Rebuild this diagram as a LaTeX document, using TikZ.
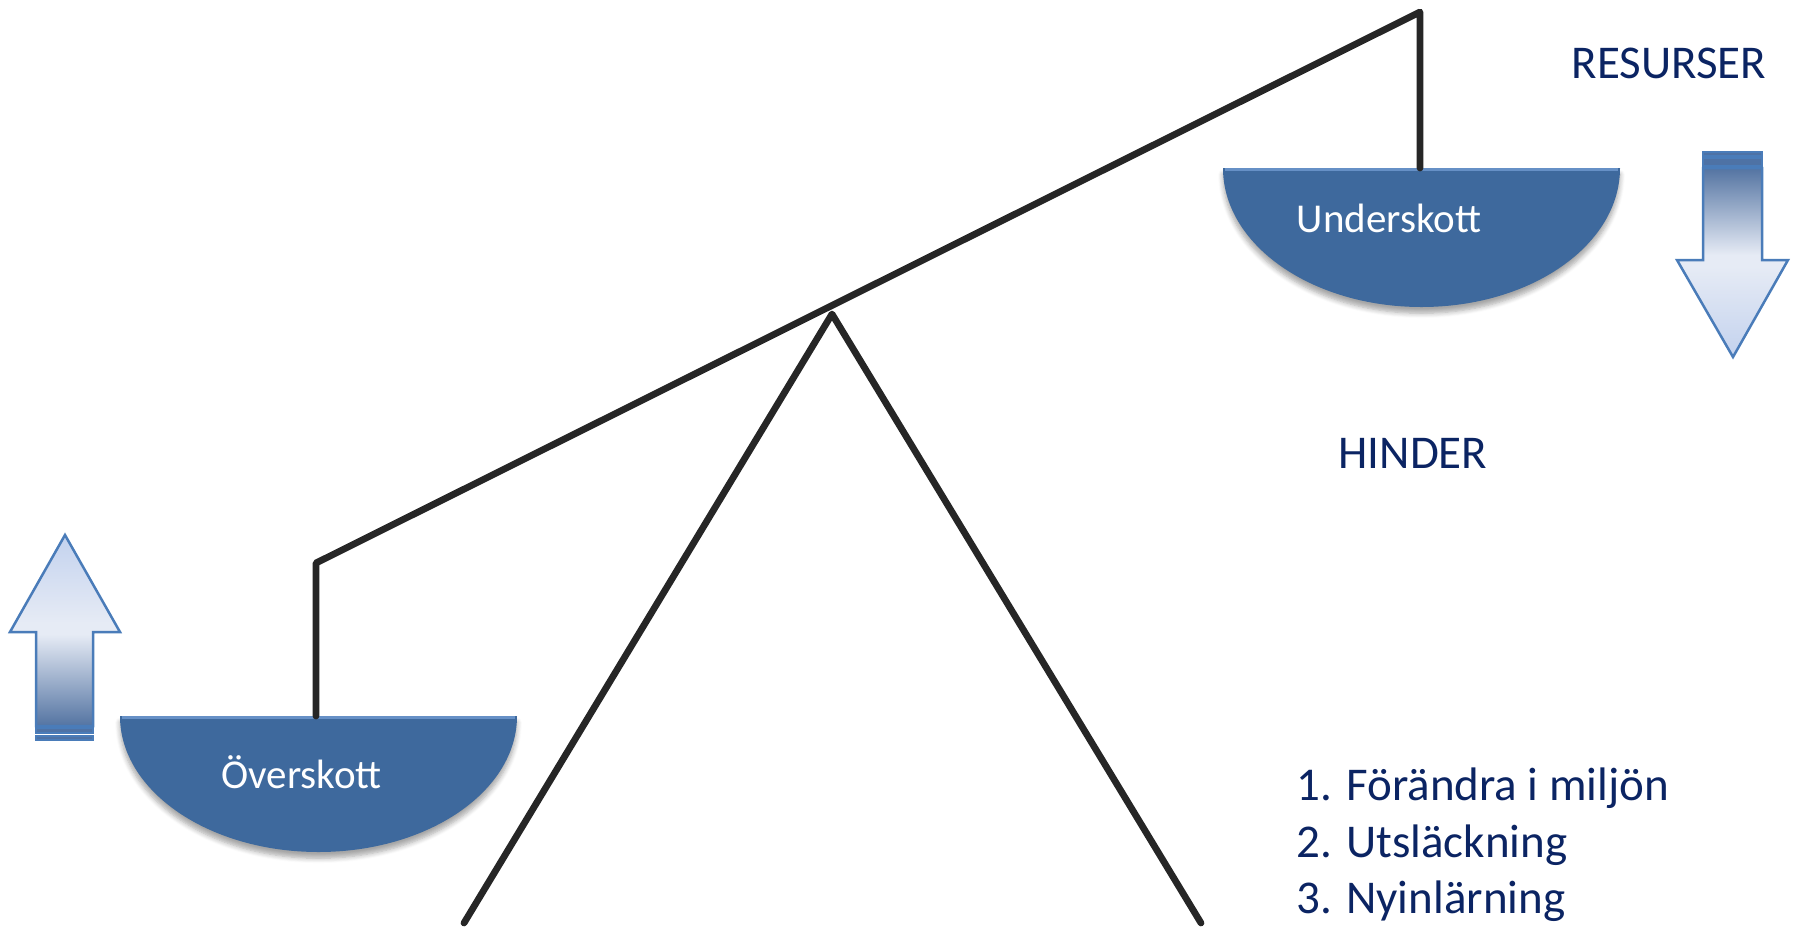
\documentclass[tikz,border=0pt]{standalone}
\usepackage{fontspec}
\setmainfont{Carlito}
\usetikzlibrary{shadows.blur}
\definecolor{navy}{HTML}{0B2463}
\definecolor{panblue}{HTML}{3E699D}
\definecolor{panrim}{HTML}{6690C6}
\definecolor{rodgray}{HTML}{262626}
\definecolor{arrowline}{HTML}{4A7CB9}
\definecolor{uptip}{HTML}{C3D2EE}
\definecolor{uplight}{HTML}{E6EBF5}
\definecolor{upbot}{HTML}{5474A2}
\definecolor{stripe}{HTML}{4E72A5}
\pgfdeclareverticalshading{uparrowshade}{100bp}{color(0bp)=(upbot); color(25bp)=(upbot); color(49bp)=(uplight); color(52bp)=(uplight); color(75bp)=(uptip); color(100bp)=(uptip)}
\pgfdeclareverticalshading{downarrowshade}{100bp}{color(0bp)=(uptip); color(25bp)=(uptip); color(49bp)=(uplight); color(52bp)=(uplight); color(75bp)=(upbot); color(100bp)=(upbot)}
\tikzset{
  rod/.style={draw=rodgray, line width=2.7pt, line cap=round, line join=round},
  pan/.style={fill=panblue, blur shadow={shadow xshift=0pt, shadow yshift=-2.5pt, shadow blur steps=6, shadow opacity=35}},
  pantext/.style={text=white, font=\fontsize{16.4}{19}\selectfont, anchor=base, inner sep=0pt},
  navytext/.style={text=navy, font=\fontsize{18.8}{22}\selectfont, inner sep=0pt},
  arrowbox/.style={draw=arrowline, line width=1pt, line join=miter},
  stripebox/.style={fill=stripe, draw=arrowline, line width=0.5pt}
}
\begin{document}
\begin{tikzpicture}[x=0.4pt, y=-0.4pt]
\useasboundingbox (0,0) rectangle (1796,929);
% coordinates
\coordinate (bl) at (316,563);
\coordinate (br) at (1420,12);
\coordinate (lpt) at (316,716);
\coordinate (rpt) at (1420,168);
\coordinate (apex) at (832,314);
\coordinate (legl) at (464,923);
\coordinate (legr) at (1201,923);
% pans
\path[pan] (120,716) -- (517,716) arc[start angle=0, end angle=180, x radius=198.5, y radius=136] -- cycle;
\draw[panrim, line width=1.2pt] (122,717.5) -- (515,717.5);
\path[pan] (1223,168) -- (1620,168) arc[start angle=0, end angle=180, x radius=198.5, y radius=139] -- cycle;
\draw[panrim, line width=1.2pt] (1225,169.5) -- (1618,169.5);
% rods
\draw[rod] (lpt) -- (bl) -- (br) -- (rpt);
\draw[rod] (legl) -- (apex) -- (legr);
% pan texts
\node[pantext] (over) at (301.5,788) {Överskott};
\node[pantext] (under) at (1389,232) {Underskott};
% labels
\node[navytext, anchor=base] (res) at (1669,78) {RESURSER};
\node[navytext, anchor=base] (hind) at (1413,468) {HINDER};
\node[navytext, anchor=base west] (l1) at (1296,800) {1. Förändra i miljön};
\node[navytext, anchor=base west] (l2) at (1296,857) {2. Utsläckning};
\node[navytext, anchor=base west] (l3) at (1296,913) {3. Nyinlärning};
% up arrow
\path[shading=uparrowshade] (65,535) -- (120,632) -- (93,632) -- (93,726) -- (36,726) -- (36,632) -- (10,632) -- cycle;
\draw[arrowbox] (65,535) -- (120,632) -- (93,632) -- (93,726) -- (36,726) -- (36,632) -- (10,632) -- cycle;
\draw[stripebox] (36,728) rectangle (93,733);
\draw[stripebox] (36,736) rectangle (93,740);
% down arrow
\path[shading=downarrowshade] (1733,357) -- (1788,260) -- (1762,260) -- (1762,168) -- (1703,168) -- (1703,260) -- (1677,260) -- cycle;
\draw[arrowbox] (1733,357) -- (1788,260) -- (1762,260) -- (1762,168) -- (1703,168) -- (1703,260) -- (1677,260) -- cycle;
\draw[stripebox] (1703,152) rectangle (1762,156);
\draw[stripebox] (1703,158) rectangle (1762,166);
\end{tikzpicture}
\end{document}
